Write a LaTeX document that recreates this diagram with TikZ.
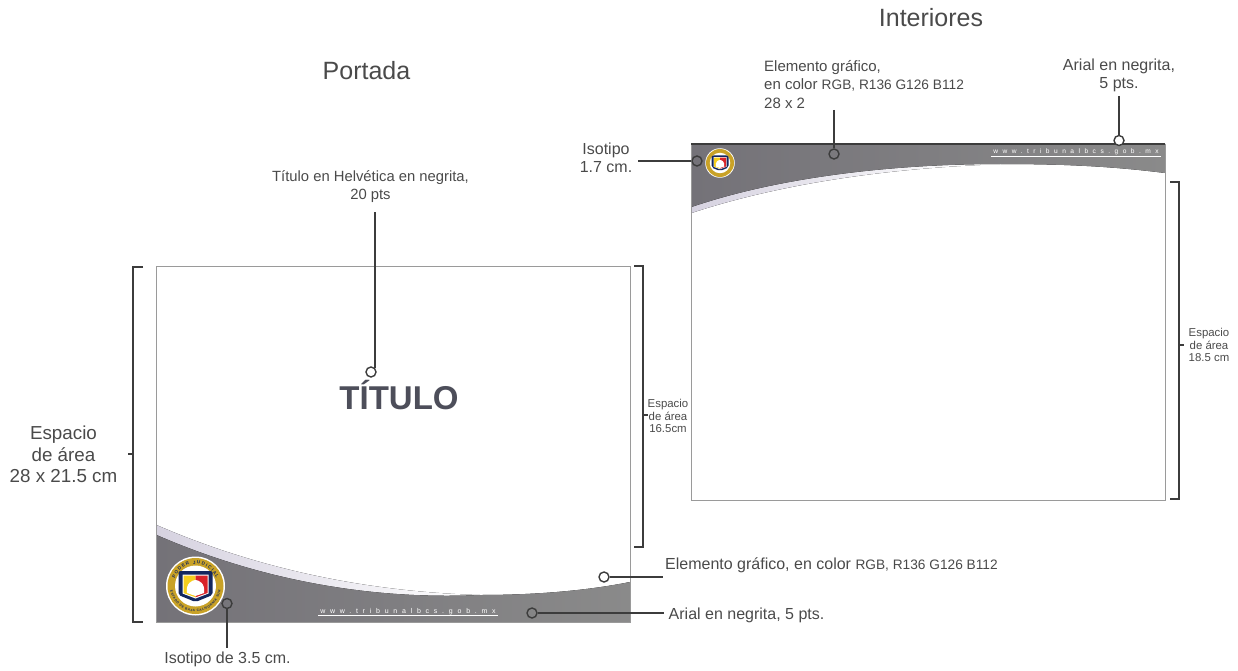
\documentclass[tikz,border=0pt]{standalone}
\usepackage{fontspec}
\setmainfont{Liberation Sans}
\newfontfamily\spacedfont[LetterSpace=68]{Liberation Sans}
\usetikzlibrary{decorations.text}
\definecolor{ink}{HTML}{3C3C3C}
\definecolor{txt}{HTML}{4A4A4A}
\definecolor{titlec}{HTML}{4D4E5A}
\definecolor{frameg}{HTML}{9A9A9A}
\definecolor{darkL}{HTML}{747278}
\definecolor{darkR}{HTML}{8A8A8A}
\definecolor{lav}{HTML}{D6D2E0}
\definecolor{navy}{HTML}{12265E}
\definecolor{gold}{HTML}{C9A227}
\definecolor{sealred}{HTML}{D8232A}
\definecolor{sealyel}{HTML}{F5CE1E}
\tikzset{
  panel/.style={draw=frameg,line width=.9pt,fill=white,outer sep=0pt,inner sep=0pt,minimum width=474pt,minimum height=356pt,anchor=north west},
  bracket/.style={draw=ink,line width=1.2pt},
  lead/.style={draw=ink,line width=1.3pt},
  dot/.style={circle,draw=ink,line width=1.4pt,minimum size=10pt,inner sep=0pt},
  lab/.style={text=txt,font=\fontsize{14.8}{18.5}\selectfont,align=center,inner sep=0pt},
  leftlab/.style={lab,align=left,font=\fontsize{16}{18.5}\selectfont},
  head/.style={text=txt,font=\fontsize{25}{28}\selectfont,inner sep=0pt},
  small/.style={text=txt,font=\fontsize{11.4}{12.7}\selectfont,align=center,inner sep=0pt},
  site/.style={text=white,inner sep=0pt},
}
\newcommand{\sm}[1]{{\fontsize{13.7}{14}\selectfont #1}}
\newcommand{\sealart}[3]{%
  \begin{scope}[shift={(#1,#2)},scale=#3,x=1pt,y=1pt]
    \fill[white] (0,0) circle (29.5);
    \fill[gold] (0,0) circle (28);
    \fill[white] (0,0) circle (20.5);
    \fill[navy,rounded corners=2pt] (-17,15) -- (17,15) -- (17,-9) -- (0,-16) -- (-17,-9) -- cycle;
    \fill[white] (-13,11.5) -- (13,11.5) -- (13,-7.5) -- (0,-12.5) -- (-13,-7.5) -- cycle;
    \fill[sealyel] (-12,10.5) -- (0,10.5) -- (0,-11.3) -- (-12,-7) -- cycle;
    \fill[sealred] (12,10.5) -- (0,10.5) -- (0,-11.3) -- (12,-7) -- cycle;
    \fill[white] (-8.5,-7) .. controls (-10,3) and (-3,6) .. (0,6) .. controls (3,6) and (10,3) .. (8.5,-7) -- (0,-10) -- cycle;
  \end{scope}}
\begin{document}
\begin{tikzpicture}[x=1pt,y=-1pt]
\useasboundingbox (0,0) rectangle (1238,671);

% Portada
\node[panel] (cover) at (156,266) {};
\fill[left color=lav,middle color=lav!75!white,right color=white] (156.5,525) .. controls (260,570) and (370,592) .. (480,595) -- (480,621) -- (156.5,621) -- cycle;
\fill[left color=darkL,right color=darkR] (156.5,535) .. controls (260,580) and (370,600) .. (480,595) .. controls (540,595) and (590,590) .. (630,582) -- (630,622) -- (156.5,622) -- cycle;
\draw[frameg,line width=.9pt] (cover.north west) rectangle (cover.south east);
\sealart{195.5}{586}{1}
\begin{scope}[shift={(195.5,586)},y=1pt,x=1pt]
  \path[decorate,decoration={text along path,text align={fit to path},text color=navy,text={|\fontsize{4.5}{5}\selectfont\bfseries|PODER JUDICIAL}}] (160:22) arc (160:20:22);
  \path[decorate,decoration={text along path,text align={fit to path},text color=navy,text={|\fontsize{3.2}{4}\selectfont\bfseries|ESTADO DE BAJA CALIFORNIA SUR}}] (190:25.5) arc (190:350:25.5);
\end{scope}
\node[site,font=\spacedfont\fontsize{7}{8}\selectfont] (site1) at (408,612) {www.tribunalbcs.gob.mx};
\draw[white,line width=.5pt] (318,615.5) -- (498,615.5);
\node[text=titlec,font=\bfseries\fontsize{33}{38}\selectfont,inner sep=0pt] (titulo) at (399,395) {TÍTULO};

\node[head] (portada) at (366.5,71) {Portada};
\node[lab] (ltitulo) at (370.5,186.5) {Título en Helvética en negrita,\\20 pts};
\node[dot] (d1) at (371,372) {};
\coordinate (e1) at (375,212);
\draw[lead] (e1) -- (e1 |- d1.45);

% bracket portada left
\coordinate (ba) at (143,267); \coordinate (bb) at (133,267); \coordinate (bc) at (133,622); \coordinate (bd) at (143,622);
\draw[bracket] (ba) -- (bb) -- (bc) -- (bd);
\coordinate (bm) at (133,454); \coordinate (bn) at (128,454);
\draw[bracket] (bm) -- (bn);
\node[text=txt,font=\fontsize{18.8}{21.5}\selectfont,align=center,inner sep=0pt] (lesp) at (63.5,454.5) {Espacio\\de área\\28 x 21.5 cm};

% bracket portada right
\coordinate (ca) at (634,266); \coordinate (cb) at (643,266); \coordinate (cc) at (643,547); \coordinate (cd) at (634,547);
\draw[bracket] (ca) -- (cb) -- (cc) -- (cd);
\coordinate (cm) at (643,415); \coordinate (cn) at (648,415);
\draw[bracket] (cm) -- (cn);
\node[small] (lesp2) at (668,416) {Espacio\\de área\\16.5cm};

% callouts portada
\node[dot] (d2) at (604,577) {};
\coordinate (e2) at (663,577);
\draw[lead] (d2) -- (e2);
\node[leftlab,anchor=west] (l2) at (665,565) {Elemento gráfico, en color \sm{RGB, R136 G126 B112}};
\node[dot] (d3) at (532,613) {};
\coordinate (e3) at (664,613);
\draw[lead] (d3) -- (e3);
\node[leftlab,anchor=west] (l3) at (668.5,615) {Arial en negrita, 5 pts.};
\node[dot] (d4) at (227,603.5) {};
\node[lab,font=\fontsize{16}{18}\selectfont] (l4) at (227.5,659.5) {Isotipo de 3.5 cm.};
\coordinate (e4) at (227,648);
\draw[lead] (d4) -- (e4);

% Interiores
\node[panel] (inner) at (691,144) {};
\fill[left color=lav,middle color=lav!75!white,right color=white] (691.5,213) .. controls (770,187) and (870,170) .. (980,165) -- (980,145) -- (691.5,145) -- cycle;
\fill[left color=darkL,right color=darkR] (691.5,144) -- (1165,144) -- (1165,173) .. controls (1110,166) and (1060,164) .. (1000,164) .. controls (880,164) and (770,180) .. (691.5,207) -- cycle;
\draw[frameg,line width=.9pt] (inner.north west) rectangle (inner.south east);
\draw[ink,line width=1.1pt] (inner.north west) -- (inner.north east);
\sealart{720}{163}{.5}
\node[site,font=\spacedfont\fontsize{6.6}{8}\selectfont] (site2) at (1076,152) {www.tribunalbcs.gob.mx};
\draw[white,line width=.5pt] (991,156) -- (1161,156);

\node[head] (interiores) at (931,18) {Interiores};
\node[leftlab,anchor=north west,font=\fontsize{15}{18.5}\selectfont] (l5) at (764,60) {Elemento gráfico,\\en color \sm{RGB, R136 G126 B112}\\28 x 2};
\node[dot] (d5) at (834,154) {};
\coordinate (e5) at (834,110);
\draw[lead] (e5) -- (d5);
\node[lab,font=\fontsize{16}{18}\selectfont] (l6) at (1119,75.5) {Arial en negrita,\\5 pts.};
\node[dot,fill=white] (d6) at (1119,140.5) {};
\coordinate (e6) at (1119,96);
\draw[lead] (e6) -- (d6);
\node[lab,font=\fontsize{16}{18.5}\selectfont] (l7) at (606,158) {Isotipo\\1.7 cm.};
\node[dot] (d7) at (697,161) {};
\coordinate (e7) at (638,161);
\draw[lead] (e7) -- (d7);

\coordinate (fa) at (1170,182); \coordinate (fb) at (1179,182); \coordinate (fc) at (1179,499); \coordinate (fd) at (1170,499);
\draw[bracket] (fa) -- (fb) -- (fc) -- (fd);
\coordinate (fm) at (1179,345); \coordinate (fn) at (1184,345);
\draw[bracket] (fm) -- (fn);
\node[small] (lesp3) at (1209,345) {Espacio\\de área\\18.5 cm};
\end{tikzpicture}
\end{document}
